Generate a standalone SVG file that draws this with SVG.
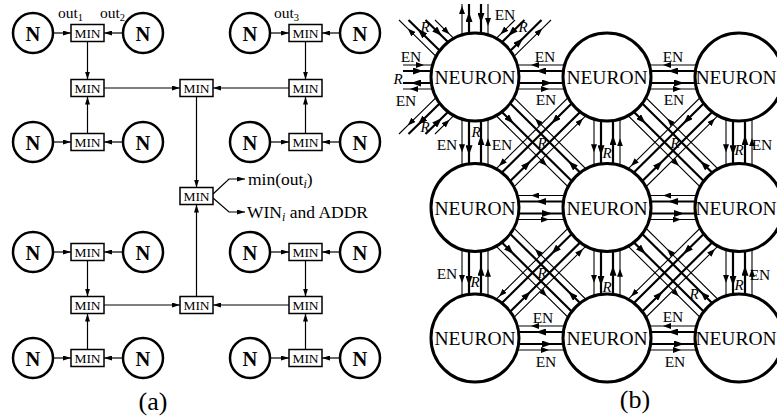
<svg xmlns="http://www.w3.org/2000/svg" width="777" height="416" viewBox="0 0 777 416">
<defs>
<marker id="m" markerUnits="userSpaceOnUse" markerWidth="8" markerHeight="5" refX="8" refY="2.5" orient="auto"><path d="M0,0 L8,2.5 L0,5 z" fill="#000"/></marker>
<marker id="ta" markerUnits="userSpaceOnUse" markerWidth="8" markerHeight="6" refX="4" refY="3" orient="auto"><path d="M0,0 L8,3 L0,6 z" fill="#000"/></marker>
<marker id="tb" markerUnits="userSpaceOnUse" markerWidth="10" markerHeight="7" refX="5" refY="3.5" orient="auto"><path d="M0,0 L10,3.5 L0,7 z" fill="#000"/></marker>
</defs>
<style>
text{font-family:"Liberation Serif","Times New Roman",serif;fill:#000}
.ar{fill:none;stroke:#000;stroke-width:1.2;marker-end:url(#m)}
.th{fill:none;stroke:#000;stroke-width:1.1;marker-mid:url(#ta)}
.tk{fill:none;stroke:#000;stroke-width:2.2;marker-mid:url(#tb)}
.nc{fill:#fff;stroke:#000;stroke-width:2.5}
.mb{fill:#fff;stroke:#000;stroke-width:1.5}
.bn{fill:#fff;stroke:#000;stroke-width:3}
.N{font-size:20.5px;font-weight:bold;text-anchor:middle}
.M{font-size:13.5px;text-anchor:middle}
.o{font-size:15.5px}
.big{font-size:17.5px}
.neu{font-size:19.5px;text-anchor:middle}
.en{font-size:15.5px;text-anchor:middle}
.r{font-size:15px;font-style:italic;text-anchor:middle}
.cap{font-size:26px;text-anchor:middle}
</style>

<!-- ===== (a) connectors ===== -->
<g id="a-connectors">
<path class="ar" d="M54,33 L71,33"/><path class="ar" d="M122,33 L104,33"/><path class="ar" d="M271,33 L289,33"/><path class="ar" d="M339,33 L322,33"/>
<path class="ar" d="M54,142 L71,142"/><path class="ar" d="M122,142 L104,142"/><path class="ar" d="M271,142 L289,142"/><path class="ar" d="M339,142 L322,142"/>
<path class="ar" d="M54,252 L71,252"/><path class="ar" d="M122,252 L104,252"/><path class="ar" d="M271,252 L289,252"/><path class="ar" d="M339,252 L322,252"/>
<path class="ar" d="M54,358 L71,358"/><path class="ar" d="M122,358 L104,358"/><path class="ar" d="M271,358 L289,358"/><path class="ar" d="M339,358 L322,358"/>
<path class="ar" d="M87.5,41.5 L87.5,79.5"/><path class="ar" d="M87.5,133.5 L87.5,96.5"/>
<path class="ar" d="M305.5,41.5 L305.5,79.5"/><path class="ar" d="M305.5,133.5 L305.5,96.5"/>
<path class="ar" d="M104,88 L180,88"/><path class="ar" d="M289,88 L213,88"/>
<path class="ar" d="M196.5,96.5 L196.5,187.5"/><path class="ar" d="M196.5,296.5 L196.5,204.5"/>
<path class="ar" d="M87.5,260.5 L87.5,296.5"/><path class="ar" d="M87.5,349.5 L87.5,313.5"/>
<path class="ar" d="M305.5,260.5 L305.5,296.5"/><path class="ar" d="M305.5,349.5 L305.5,313.5"/>
<path class="ar" d="M104,305 L180,305"/><path class="ar" d="M289,305 L213,305"/>
<path class="ar" d="M213,194 L229,179 L245,179"/><path class="ar" d="M213,198 L229,212 L245,212"/>
</g>

<!-- ===== (a) nodes ===== -->
<g id="a-n1"><circle class="nc" cx="33" cy="33" r="20"/><text class="N" x="33" y="40.5">N</text></g>
<g id="a-n2"><circle class="nc" cx="143" cy="33" r="20"/><text class="N" x="143" y="40.5">N</text></g>
<g id="a-n3"><circle class="nc" cx="250" cy="33" r="20"/><text class="N" x="250" y="40.5">N</text></g>
<g id="a-n4"><circle class="nc" cx="360" cy="33" r="20"/><text class="N" x="360" y="40.5">N</text></g>
<g id="a-n5"><circle class="nc" cx="33" cy="142" r="20"/><text class="N" x="33" y="149.5">N</text></g>
<g id="a-n6"><circle class="nc" cx="143" cy="142" r="20"/><text class="N" x="143" y="149.5">N</text></g>
<g id="a-n7"><circle class="nc" cx="250" cy="142" r="20"/><text class="N" x="250" y="149.5">N</text></g>
<g id="a-n8"><circle class="nc" cx="360" cy="142" r="20"/><text class="N" x="360" y="149.5">N</text></g>
<g id="a-n9"><circle class="nc" cx="33" cy="252" r="20"/><text class="N" x="33" y="259.5">N</text></g>
<g id="a-n10"><circle class="nc" cx="143" cy="252" r="20"/><text class="N" x="143" y="259.5">N</text></g>
<g id="a-n11"><circle class="nc" cx="250" cy="252" r="20"/><text class="N" x="250" y="259.5">N</text></g>
<g id="a-n12"><circle class="nc" cx="360" cy="252" r="20"/><text class="N" x="360" y="259.5">N</text></g>
<g id="a-n13"><circle class="nc" cx="33" cy="358" r="20"/><text class="N" x="33" y="365.5">N</text></g>
<g id="a-n14"><circle class="nc" cx="143" cy="358" r="20"/><text class="N" x="143" y="365.5">N</text></g>
<g id="a-n15"><circle class="nc" cx="250" cy="358" r="20"/><text class="N" x="250" y="365.5">N</text></g>
<g id="a-n16"><circle class="nc" cx="360" cy="358" r="20"/><text class="N" x="360" y="365.5">N</text></g>

<g id="a-m1"><rect class="mb" x="71" y="24.5" width="33" height="17"/><text class="M" x="87.5" y="38">MIN</text></g>
<g id="a-m2"><rect class="mb" x="289" y="24.5" width="33" height="17"/><text class="M" x="305.5" y="38">MIN</text></g>
<g id="a-m3"><rect class="mb" x="71" y="79.5" width="33" height="17"/><text class="M" x="87.5" y="93">MIN</text></g>
<g id="a-m4"><rect class="mb" x="180" y="79.5" width="33" height="17"/><text class="M" x="196.5" y="93">MIN</text></g>
<g id="a-m5"><rect class="mb" x="289" y="79.5" width="33" height="17"/><text class="M" x="305.5" y="93">MIN</text></g>
<g id="a-m6"><rect class="mb" x="71" y="133.5" width="33" height="17"/><text class="M" x="87.5" y="147">MIN</text></g>
<g id="a-m7"><rect class="mb" x="289" y="133.5" width="33" height="17"/><text class="M" x="305.5" y="147">MIN</text></g>
<g id="a-m8"><rect class="mb" x="180" y="187.5" width="33" height="17"/><text class="M" x="196.5" y="201">MIN</text></g>
<g id="a-m9"><rect class="mb" x="71" y="243.5" width="33" height="17"/><text class="M" x="87.5" y="257">MIN</text></g>
<g id="a-m10"><rect class="mb" x="289" y="243.5" width="33" height="17"/><text class="M" x="305.5" y="257">MIN</text></g>
<g id="a-m11"><rect class="mb" x="71" y="296.5" width="33" height="17"/><text class="M" x="87.5" y="310">MIN</text></g>
<g id="a-m12"><rect class="mb" x="180" y="296.5" width="33" height="17"/><text class="M" x="196.5" y="310">MIN</text></g>
<g id="a-m13"><rect class="mb" x="289" y="296.5" width="33" height="17"/><text class="M" x="305.5" y="310">MIN</text></g>
<g id="a-m14"><rect class="mb" x="71" y="349.5" width="33" height="17"/><text class="M" x="87.5" y="363">MIN</text></g>
<g id="a-m15"><rect class="mb" x="289" y="349.5" width="33" height="17"/><text class="M" x="305.5" y="363">MIN</text></g>

<g id="a-labels">
<text class="o" x="58" y="18">out<tspan font-size="10.5" dy="3">1</tspan></text>
<text class="o" x="100" y="18">out<tspan font-size="10.5" dy="3">2</tspan></text>
<text class="o" x="274" y="18">out<tspan font-size="10.5" dy="3">3</tspan></text>
<text class="big" x="248" y="185">min(out<tspan font-size="12" font-style="italic" dy="3">i</tspan><tspan dy="-3">)</tspan></text>
<text class="big" x="247" y="218">WIN<tspan font-size="12" font-style="italic" dy="3">i</tspan><tspan dy="-3"> and ADDR</tspan></text>
<text class="cap" x="153" y="410">(a)</text>
</g>

<!-- ===== (b) connectors ===== -->
<g id="b-connectors">
<path class="th" d="M607,65 L535,65 L475,65"/><path class="tk" d="M607,71 L541,71 L475,71"/><path class="tk" d="M475,83 L547,83 L607,83"/><path class="th" d="M475,89 L545,89 L607,89"/>
<path class="th" d="M739,65 L667,65 L607,65"/><path class="tk" d="M739,71 L673,71 L607,71"/><path class="tk" d="M607,83 L679,83 L739,83"/><path class="th" d="M607,89 L677,89 L739,89"/>
<path class="th" d="M607,195.5 L535,195.5 L475,195.5"/><path class="tk" d="M607,201.5 L541,201.5 L475,201.5"/><path class="tk" d="M475,213.5 L547,213.5 L607,213.5"/><path class="th" d="M475,219.5 L545,219.5 L607,219.5"/>
<path class="th" d="M739,195.5 L667,195.5 L607,195.5"/><path class="tk" d="M739,201.5 L673,201.5 L607,201.5"/><path class="tk" d="M607,213.5 L679,213.5 L739,213.5"/><path class="th" d="M607,219.5 L677,219.5 L739,219.5"/>
<path class="th" d="M607,326 L535,326 L475,326"/><path class="tk" d="M607,332 L541,332 L475,332"/><path class="tk" d="M475,344 L547,344 L607,344"/><path class="th" d="M475,350 L545,350 L607,350"/>
<path class="th" d="M739,326 L667,326 L607,326"/><path class="tk" d="M739,332 L673,332 L607,332"/><path class="tk" d="M607,344 L679,344 L739,344"/><path class="th" d="M607,350 L677,350 L739,350"/>
<path class="th" d="M462,77 L462,148.25 L462,207.5"/><path class="tk" d="M469,77 L469,150.25 L469,207.5"/><path class="tk" d="M481,207.5 L481,140.25 L481,77"/><path class="th" d="M488,207.5 L488,142.25 L488,77"/>
<path class="th" d="M462,207.5 L462,278.75 L462,338"/><path class="tk" d="M469,207.5 L469,280.75 L469,338"/><path class="tk" d="M481,338 L481,270.75 L481,207.5"/><path class="th" d="M488,338 L488,272.75 L488,207.5"/>
<path class="th" d="M594,77 L594,148.25 L594,207.5"/><path class="tk" d="M601,77 L601,150.25 L601,207.5"/><path class="tk" d="M613,207.5 L613,140.25 L613,77"/><path class="th" d="M620,207.5 L620,142.25 L620,77"/>
<path class="th" d="M594,207.5 L594,278.75 L594,338"/><path class="tk" d="M601,207.5 L601,280.75 L601,338"/><path class="tk" d="M613,338 L613,270.75 L613,207.5"/><path class="th" d="M620,338 L620,272.75 L620,207.5"/>
<path class="th" d="M726,77 L726,148.25 L726,207.5"/><path class="tk" d="M733,77 L733,150.25 L733,207.5"/><path class="tk" d="M745,207.5 L745,140.25 L745,77"/><path class="th" d="M752,207.5 L752,142.25 L752,77"/>
<path class="th" d="M726,207.5 L726,278.75 L726,338"/><path class="tk" d="M733,207.5 L733,280.75 L733,338"/><path class="tk" d="M745,338 L745,270.75 L745,207.5"/><path class="th" d="M752,338 L752,272.75 L752,207.5"/>
<path class="th" d="M625,207.5 L537.88,121.37 L493,77"/><path class="tk" d="M615.5,207.5 L571.94,164.43 L483.5,77"/><path class="tk" d="M466.5,77 L510.06,120.07 L598.5,207.5"/><path class="th" d="M457,77 L544.12,163.13 L589,207.5"/>
<path class="th" d="M757,207.5 L669.88,121.37 L625,77"/><path class="tk" d="M747.5,207.5 L703.94,164.43 L615.5,77"/><path class="tk" d="M598.5,77 L642.06,120.07 L730.5,207.5"/><path class="th" d="M589,77 L676.12,163.13 L721,207.5"/>
<path class="th" d="M625,338 L537.88,251.87 L493,207.5"/><path class="tk" d="M615.5,338 L571.94,294.93 L483.5,207.5"/><path class="tk" d="M466.5,207.5 L510.06,250.57 L598.5,338"/><path class="th" d="M457,207.5 L544.12,293.63 L589,338"/>
<path class="th" d="M757,338 L669.88,251.87 L625,207.5"/><path class="tk" d="M747.5,338 L703.94,294.93 L615.5,207.5"/><path class="tk" d="M598.5,207.5 L642.06,250.57 L730.5,338"/><path class="th" d="M589,207.5 L676.12,293.63 L721,338"/>
<path class="th" d="M589,77 L501.88,163.13 L457,207.5"/><path class="tk" d="M598.5,77 L554.94,120.07 L466.5,207.5"/><path class="tk" d="M483.5,207.5 L527.06,164.43 L615.5,77"/><path class="th" d="M493,207.5 L580.12,121.37 L625,77"/>
<path class="th" d="M721,77 L633.88,163.13 L589,207.5"/><path class="tk" d="M730.5,77 L686.94,120.07 L598.5,207.5"/><path class="tk" d="M615.5,207.5 L659.06,164.43 L747.5,77"/><path class="th" d="M625,207.5 L712.12,121.37 L757,77"/>
<path class="th" d="M589,207.5 L501.88,293.63 L457,338"/><path class="tk" d="M598.5,207.5 L554.94,250.57 L466.5,338"/><path class="tk" d="M483.5,338 L527.06,294.93 L615.5,207.5"/><path class="th" d="M493,338 L580.12,251.87 L625,207.5"/>
<path class="th" d="M721,207.5 L633.88,293.63 L589,338"/><path class="tk" d="M730.5,207.5 L686.94,250.57 L598.5,338"/><path class="tk" d="M615.5,338 L659.06,294.93 L747.5,207.5"/><path class="th" d="M625,338 L712.12,251.87 L757,207.5"/>
<path class="th" d="M462,77 L462,10 L462,4"/><path class="tk" d="M469,77 L469,17 L469,4"/><path class="tk" d="M481,4 L481,18 L481,77"/><path class="th" d="M488,4 L488,22 L488,77"/>
<path class="th" d="M403,65 L420,65 L475,65"/><path class="tk" d="M403,71 L418,71 L475,71"/><path class="tk" d="M475,83 L416,83 L403,83"/><path class="th" d="M475,89 L414,89 L403,89"/>
<path class="th" d="M435,20 L446.6,31.4 L493,77"/><path class="tk" d="M425.5,20 L438.3,32.5 L483.5,77"/><path class="tk" d="M466.5,77 L421.3,32.5 L408.5,20"/><path class="th" d="M457,77 L410.6,31.4 L399,20"/>
<path class="tk" d="M483.5,77 L519.5,41.7 L541.5,20"/><path class="th" d="M493,77 L539.4,31.4 L551,20"/><path class="tk" d="M524.5,20 L511.7,32.5 L466.5,77"/><path class="th" d="M515,20 L503.4,31.4 L457,77"/>
<path class="tk" d="M425.5,134 L438.3,121.5 L483.5,77"/><path class="th" d="M435,134 L446.6,122.6 L493,77"/><path class="tk" d="M466.5,77 L421.3,121.5 L408.5,134"/><path class="th" d="M457,77 L410.6,122.6 L399,134"/>
</g>

<!-- ===== (b) nodes ===== -->
<g id="b-TL"><circle class="bn" cx="475" cy="77" r="44"/><text class="neu" x="475" y="84">NEURON</text></g>
<g id="b-TM"><circle class="bn" cx="607" cy="77" r="44"/><text class="neu" x="607" y="84">NEURON</text></g>
<g id="b-TR"><circle class="bn" cx="739" cy="77" r="44"/><text class="neu" x="736" y="84">NEURON</text></g>
<g id="b-ML"><circle class="bn" cx="475" cy="207.5" r="44"/><text class="neu" x="475" y="214.5">NEURON</text></g>
<g id="b-MM"><circle class="bn" cx="607" cy="207.5" r="44"/><text class="neu" x="607" y="214.5">NEURON</text></g>
<g id="b-MR"><circle class="bn" cx="739" cy="207.5" r="44"/><text class="neu" x="736" y="214.5">NEURON</text></g>
<g id="b-BL"><circle class="bn" cx="475" cy="338" r="44"/><text class="neu" x="475" y="345">NEURON</text></g>
<g id="b-BM"><circle class="bn" cx="607" cy="338" r="44"/><text class="neu" x="607" y="345">NEURON</text></g>
<g id="b-BR"><circle class="bn" cx="739" cy="338" r="44"/><text class="neu" x="736" y="345">NEURON</text></g>

<g id="b-labels">
<text class="en" x="505" y="20">EN</text>
<text class="r" x="425" y="32">R</text>
<text class="r" x="523" y="32">R</text>
<text class="en" x="411" y="62">EN</text>
<text class="r" x="398" y="84">R</text>
<text class="en" x="406" y="106">EN</text>
<text class="en" x="545" y="62">EN</text>
<text class="en" x="546" y="105">EN</text>
<text class="en" x="673" y="62">EN</text>
<text class="en" x="674" y="105">EN</text>
<text class="r" x="425" y="132">R</text>
<text class="r" x="476" y="137">R</text>
<text class="en" x="447" y="150">EN</text>
<text class="en" x="502" y="150">EN</text>
<text class="r" x="542" y="148">R</text>
<text class="r" x="607" y="158">R</text>
<text class="r" x="675" y="148">R</text>
<text class="r" x="739" y="155">R</text>
<text class="en" x="762" y="150">EN</text>
<text class="r" x="542" y="278">R</text>
<text class="en" x="447" y="279">EN</text>
<text class="r" x="475" y="287">R</text>
<text class="r" x="607" y="292">R</text>
<text class="r" x="694" y="299">R</text>
<text class="r" x="739" y="290">R</text>
<text class="en" x="760" y="280">EN</text>
<text class="en" x="543" y="323">EN</text>
<text class="en" x="546" y="367">EN</text>
<text class="en" x="673" y="322">EN</text>
<text class="en" x="675" y="367">EN</text>
<text class="cap" x="635" y="408">(b)</text>
</g>
</svg>
